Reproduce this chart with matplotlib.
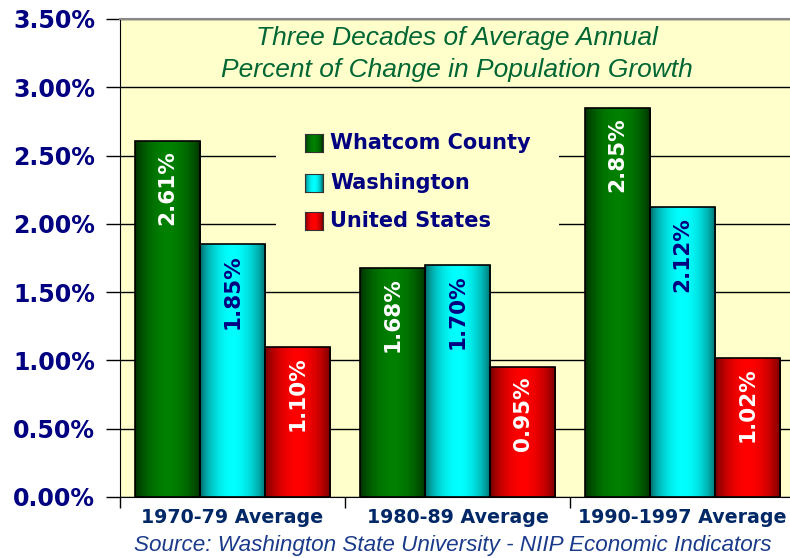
import numpy as np
import matplotlib.pyplot as plt
from matplotlib.patches import Rectangle
from matplotlib.colors import to_rgb

categories = ['1970-79 Average', '1980-89 Average', '1990-1997 Average']
series = ['Whatcom County', 'Washington', 'United States']
whatcom = [2.61, 1.68, 2.85]
washington = [1.85, 1.70, 2.12]
united_states = [1.10, 0.95, 1.02]
yticks = [0.0, 0.5, 1.0, 1.5, 2.0, 2.5, 3.0, 3.5]

# (dark edge, bright centre, label colour)
styles = [('#002a00', '#008000', 'white'),
          ('#006464', '#00ffff', '#000080'),
          ('#6a0000', '#ff0000', 'white')]

W, H = 790, 558
fig = plt.figure(figsize=(W / 100, H / 100), dpi=100)
ax = fig.add_axes([120 / W, 61 / H, 675 / W, 478 / H])
ax.set_facecolor('#ffffcc')

bold = dict(family='DejaVu Sans', weight='bold')
navy = '#000080'


def gradient(dark, bright, n=64):
    t = np.linspace(0, 1, n)
    f = np.sin(np.pi * t) ** 0.7
    d, b = np.array(to_rgb(dark)), np.array(to_rgb(bright))
    return (d + (b - d) * f[:, None])[None, :, :]


x = np.arange(len(categories))
width = 0.29
for i, vals in enumerate([whatcom, washington, united_states]):
    dark, bright, lc = styles[i]
    pos = x + (i - 1) * width
    bars = ax.bar(pos, vals, width, facecolor='none', edgecolor='black',
                  linewidth=1.2, zorder=3)
    for b, v in zip(bars, vals):
        im = ax.imshow(gradient(dark, bright), aspect='auto', zorder=2,
                       extent=[b.get_x(), b.get_x() + b.get_width(), 0, v])
        im.set_clip_path(b)
        ax.text(b.get_x() + b.get_width() / 2, v - 0.07, f'{v:.2f}%',
                rotation=90, ha='center', va='top', color=lc,
                fontsize=15.5, zorder=4, **bold)

ax.set_xlim(-0.5, 2.5)
ax.set_ylim(0, 3.5)
ax.set_yticks(yticks)
ax.set_yticklabels([f'{v:.2f}%' for v in yticks], color=navy, fontsize=17, **bold)
ax.set_xticks(x)
ax.set_xticklabels(categories, color='#002766', fontsize=13.7, **bold)
ax.set_xticks([-0.5, 0.5, 1.5, 2.5], minor=True)
ax.tick_params(axis='x', which='major', length=0, pad=8)
ax.tick_params(axis='x', which='minor', length=8, width=1, direction='out')
ax.tick_params(axis='y', length=10, width=1, direction='out', pad=8)
ax.yaxis.grid(True, color='black', linewidth=1)
ax.set_axisbelow(True)
ax.spines['right'].set_visible(False)
ax.spines['top'].set_color('#888888')
ax.spines['top'].set_linewidth(1.5)

# legend with yellow box hiding the grid
ax.add_patch(Rectangle((276 / W, 1 - 240 / H), 283 / W, 120 / H,
                       transform=fig.transFigure, facecolor='#ffffcc',
                       edgecolor='none', zorder=1))
for i, name in enumerate(series):
    dark, bright, _ = styles[i]
    cy = [143, 183, 221][i]
    sw = fig.add_axes([305 / W, 1 - (cy + 9) / H, 18 / W, 18 / H])
    sw.imshow(gradient(dark, bright), aspect='auto')
    sw.set_xticks([])
    sw.set_yticks([])
    for s in sw.spines.values():
        s.set_color('#333333')
    fig.text(330 / W, 1 - cy / H, name, va='center', ha='left',
             color=navy, fontsize=15, **bold)

fig.text(457 / W, 1 - 38 / H, 'Three Decades of Average Annual', ha='center',
         va='center', color='#006633', fontsize=19, style='italic',
         family='Liberation Sans')
fig.text(457 / W, 1 - 70 / H, 'Percent of Change in Population Growth', ha='center',
         va='center', color='#006633', fontsize=19, style='italic',
         family='Liberation Sans')
fig.text(453 / W, 1 - 545 / H,
         'Source: Washington State University - NIIP Economic Indicators',
         ha='center', va='center', color='#1a3a8a', fontsize=16.2,
         style='italic', family='Liberation Sans')

fig.savefig('out.png', dpi=100)
